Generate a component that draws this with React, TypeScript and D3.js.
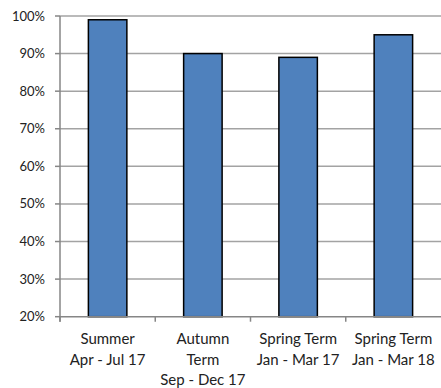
import React from "react";
import * as d3 from "d3";

const categories: string[][] = [
  ["Summer", "Apr - Jul 17"],
  ["Autumn", "Term", "Sep - Dec 17"],
  ["Spring Term", "Jan - Mar 17"],
  ["Spring Term", "Jan - Mar 18"],
];
const values: number[] = [0.99, 0.9, 0.89, 0.95];
const yTicks: number[] = [0.2, 0.3, 0.4, 0.5, 0.6, 0.7, 0.8, 0.9, 1.0];

const W = 441;
const H = 388;
const left = 60;
const right = 441;
const top = 16;
const bottom = 316.7;
const FONT = "Lato, 'Open Sans', sans-serif";

export default function App() {
  const ids = categories.map((_, i) => String(i));
  const x = d3
    .scaleBand<string>()
    .domain(ids)
    .range([left, right])
    .paddingInner(0.596)
    .paddingOuter(0.298);
  const y = d3.scaleLinear().domain([0.2, 1.0]).range([bottom, top]);
  const step = x.step();
  const fmt = d3.format(".0%");

  return (
    <svg
      width={W}
      height={H}
      style={{ position: "absolute", left: 0, top: 0, background: "#fff" }}
      fontFamily={FONT}
    >
      {yTicks.map((t) => (
        <g key={t}>
          {t > 0.2 && (
            <line x1={left} x2={right} y1={y(t)} y2={y(t)} stroke="#a3a3a3" strokeWidth={1.5} />
          )}
          <line x1={left - 5} x2={left} y1={y(t)} y2={y(t)} stroke="#868686" strokeWidth={1.5} />
          <text
            x={left - 15}
            y={y(t)}
            dy="0.35em"
            textAnchor="end"
            fontSize={13}
            fill="#222"
          >
            {fmt(t)}
          </text>
        </g>
      ))}
      {values.map((v, i) => (
        <rect
          key={i}
          x={x(String(i))!}
          y={y(v)}
          width={x.bandwidth()}
          height={bottom - y(v)}
          fill="#4f81bd"
          stroke="#000"
          strokeWidth={1.5}
        />
      ))}
      <line x1={left} x2={left} y1={top} y2={bottom + 5} stroke="#868686" strokeWidth={1.5} />
      <line x1={left} x2={right} y1={bottom} y2={bottom} stroke="#868686" strokeWidth={1.5} />
      {ids.map((id, i) => (
        <line
          key={"t" + i}
          x1={left + i * step}
          x2={left + i * step}
          y1={bottom}
          y2={bottom + 5}
          stroke="#868686"
          strokeWidth={1.5}
        />
      ))}
      {categories.map((lines, i) => (
        <text
          key={"c" + i}
          x={x(String(i))! + x.bandwidth() / 2}
          textAnchor="middle"
          fontSize={15}
          fill="#222"
        >
          {lines.map((l, j) => (
            <tspan key={j} x={x(String(i))! + x.bandwidth() / 2} y={344 + j * 20.5}>
              {l}
            </tspan>
          ))}
        </text>
      ))}
    </svg>
  );
}
